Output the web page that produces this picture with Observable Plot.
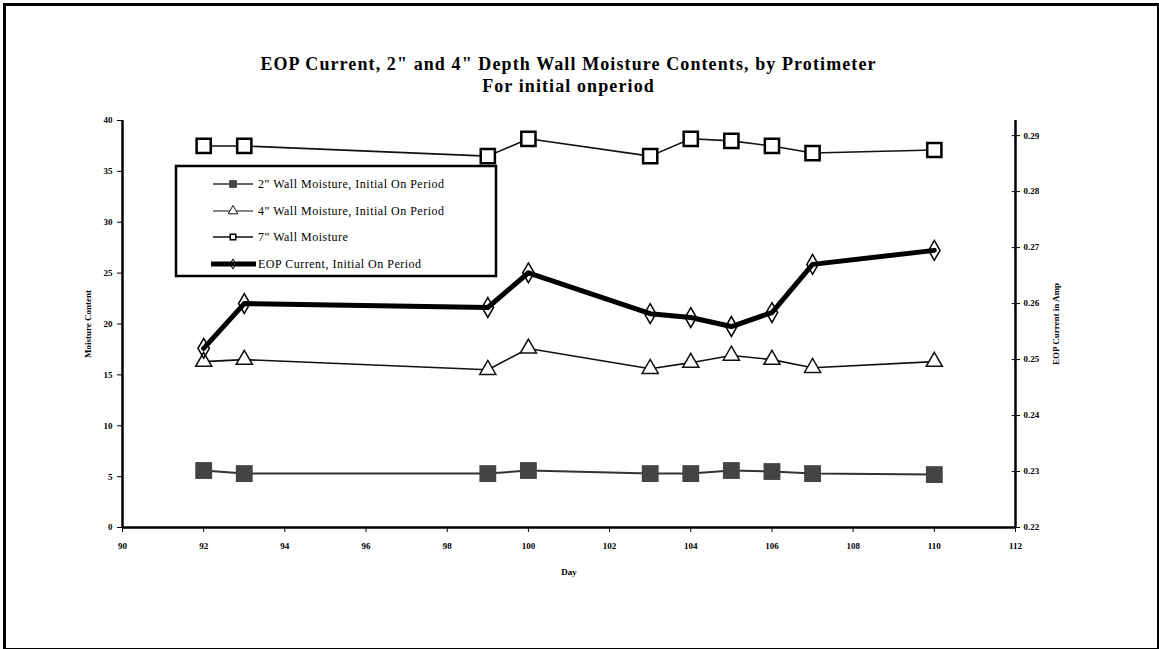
<!DOCTYPE html>
<html>
<head>
<meta charset="utf-8">
<script src="https://cdn.jsdelivr.net/npm/d3@7"></script>
<script src="https://cdn.jsdelivr.net/npm/@observablehq/plot@0.6"></script>
<style>
  html, body { margin: 0; padding: 0; background: #fff; }
  #wrap { position: relative; width: 1159px; height: 649px; overflow: hidden; font-family: "Liberation Serif", "DejaVu Serif", serif; }
  #border { position: absolute; left: 3px; top: 3px; width: 1151px; height: 642px; border: 3px solid #000; box-sizing: content-box; pointer-events: none; }
  #title { position: absolute; left: 122px; width: 893px; top: 53px; text-align: center; font-weight: bold; font-size: 18px; line-height: 22px; color: #000; letter-spacing: 1.1px; }
  #chart { position: absolute; left: 0; top: 0; }
  #legend { position: absolute; left: 0; top: 0; }
</style>
</head>
<body>
<div id="wrap">
  <div id="chart"></div>
  <div id="title">EOP Current, 2" and 4" Depth Wall Moisture Contents, by Protimeter<br>For initial onperiod</div>
  <div id="border"></div>
</div>
<script>
// ---- data ----
const days = [92, 93, 99, 100, 103, 104, 105, 106, 107, 110];
const wall2 = [5.6, 5.3, 5.3, 5.6, 5.3, 5.3, 5.6, 5.5, 5.3, 5.2];
const wall4 = [16.3, 16.5, 15.5, 17.6, 15.6, 16.2, 16.9, 16.5, 15.7, 16.3];
const wall7 = [37.5, 37.5, 36.5, 38.2, 36.5, 38.2, 38.0, 37.5, 36.8, 37.1];
const eopCurrent = [0.252, 0.2600, 0.2593, 0.2655, 0.2582, 0.2575, 0.2559, 0.2584, 0.2670, 0.2695];

const legendLabels = [
  '2" Wall Moisture, Initial On Period',
  '4" Wall Moisture, Initial On Period',
  '7" Wall Moisture',
  'EOP Current, Initial On Period'
];
const xTicks = [90, 92, 94, 96, 98, 100, 102, 104, 106, 108, 110, 112];
const leftTicks = [0, 5, 10, 15, 20, 25, 30, 35, 40];
const rightTicks = [0.22, 0.23, 0.24, 0.25, 0.26, 0.27, 0.28, 0.29];
const xDomain = [90, 112];
const leftDomain = [0, 40];
const rightDomain = [0.22, 0.2927];

// map secondary-axis values onto the primary y scale
const toLeft = v => leftDomain[0] + (v - rightDomain[0]) / (rightDomain[1] - rightDomain[0]) * (leftDomain[1] - leftDomain[0]);
const fromLeft = y => rightDomain[0] + (y - leftDomain[0]) / (leftDomain[1] - leftDomain[0]) * (rightDomain[1] - rightDomain[0]);

const d2 = days.map((d, i) => ({day: d, v: wall2[i]}));
const d4 = days.map((d, i) => ({day: d, v: wall4[i]}));
const d7 = days.map((d, i) => ({day: d, v: wall7[i]}));
const dE = days.map((d, i) => ({day: d, v: toLeft(eopCurrent[i])}));

const W = 1159, H = 649;
const chart = Plot.plot({
  width: W, height: H,
  marginLeft: 122, marginRight: W - 1015, marginTop: 120, marginBottom: H - 527,
  style: {fontFamily: '"Liberation Serif", serif', fontSize: "9px", fontWeight: "bold", background: "transparent", color: "#000"},
  x: {domain: xDomain},
  y: {domain: leftDomain},
  marks: [
    Plot.axisX({ticks: xTicks, tickSize: 5, tickPadding: 10, label: "Day", labelAnchor: "center", labelArrow: "none", labelOffset: 47, fill: "#000"}),
    Plot.axisY({ticks: leftTicks, tickSize: 5, tickPadding: 5, label: "Moisture Content", labelAnchor: "center", labelArrow: "none", labelOffset: 38, fill: "#000"}),
    Plot.axisY({anchor: "right", ticks: rightTicks.map(toLeft), tickFormat: y => d3.format(".2f")(fromLeft(y)), tickSize: 4, tickPadding: 4, label: "EOP Current in Amp", labelAnchor: "center", labelArrow: "none", labelOffset: 43, fill: "#000"}),
    Plot.ruleY(rightTicks.map(toLeft), {x1: 111.92, x2: 112, stroke: "#000", strokeWidth: 1}),
    Plot.ruleX([xDomain[0], xDomain[1]], {stroke: "#000", strokeWidth: 2.5}),
    Plot.ruleY([leftDomain[0]], {stroke: "#000", strokeWidth: 2.5}),
    // 2" wall
    Plot.line(d2, {x: "day", y: "v", stroke: "#333", strokeWidth: 2}),
    Plot.dot(d2, {x: "day", y: "v", symbol: "square", r: 9.5, fill: "#444", stroke: "none"}),
    // 4" wall
    Plot.line(d4, {x: "day", y: "v", stroke: "#111", strokeWidth: 1.6}),
    Plot.dot(d4, {x: "day", y: "v", symbol: "triangle", r: 6, fill: "#fff", stroke: "#111", strokeWidth: 1.5}),
    // 7" wall
    Plot.line(d7, {x: "day", y: "v", stroke: "#111", strokeWidth: 1.6}),
    Plot.dot(d7, {x: "day", y: "v", symbol: "square", r: 8, fill: "#fff", stroke: "#000", strokeWidth: 2.5}),
    // EOP current
    Plot.line(dE, {x: "day", y: "v", stroke: "#000", strokeWidth: 5}),
    Plot.dot(dE, {x: "day", y: "v", symbol: "diamond", r: 6, fill: "none", stroke: "#000", strokeWidth: 1.5})
  ]
});
document.getElementById("chart").appendChild(chart);

// ---- legend (drawn with d3 into an overlaid svg) ----
const lg = d3.select("#wrap").append("svg").attr("id", "legend")
  .attr("width", W).attr("height", H);
lg.append("rect").attr("x", 176).attr("y", 166).attr("width", 320).attr("height", 110)
  .attr("fill", "#fff").attr("stroke", "#000").attr("stroke-width", 2.5);
const rowY = [184, 211, 237, 264];
const sym = d3.symbol();
const styles = [
  {lw: 1.5, lc: "#333", type: d3.symbolSquare, size: 60, fill: "#444", stroke: "none", sw: 0, x1: 213, x2: 253},
  {lw: 1.2, lc: "#111", type: d3.symbolTriangle, size: 40, fill: "#fff", stroke: "#111", sw: 1, x1: 213, x2: 253},
  {lw: 1.5, lc: "#111", type: d3.symbolSquare, size: 30, fill: "#fff", stroke: "#000", sw: 1.5, x1: 213, x2: 253},
  {lw: 5, lc: "#000", type: d3.symbolDiamond, size: 30, fill: "none", stroke: "#000", sw: 1, x1: 211, x2: 256}
];
legendLabels.forEach((name, i) => {
  const s = styles[i], y = rowY[i];
  lg.append("line").attr("x1", s.x1).attr("x2", s.x2).attr("y1", y).attr("y2", y)
    .attr("stroke", s.lc).attr("stroke-width", s.lw);
  lg.append("path").attr("d", sym.type(s.type).size(s.size)()).attr("transform", `translate(233,${y})`)
    .attr("fill", s.fill).attr("stroke", s.stroke).attr("stroke-width", s.sw);
  lg.append("text").attr("x", 258).attr("y", y).attr("dy", "0.35em")
    .attr("font-family", '"Liberation Serif", serif').attr("font-size", 12)
    .attr("letter-spacing", "0.5px").attr("fill", "#000")
    .text(name);
});
</script>
</body>
</html>
